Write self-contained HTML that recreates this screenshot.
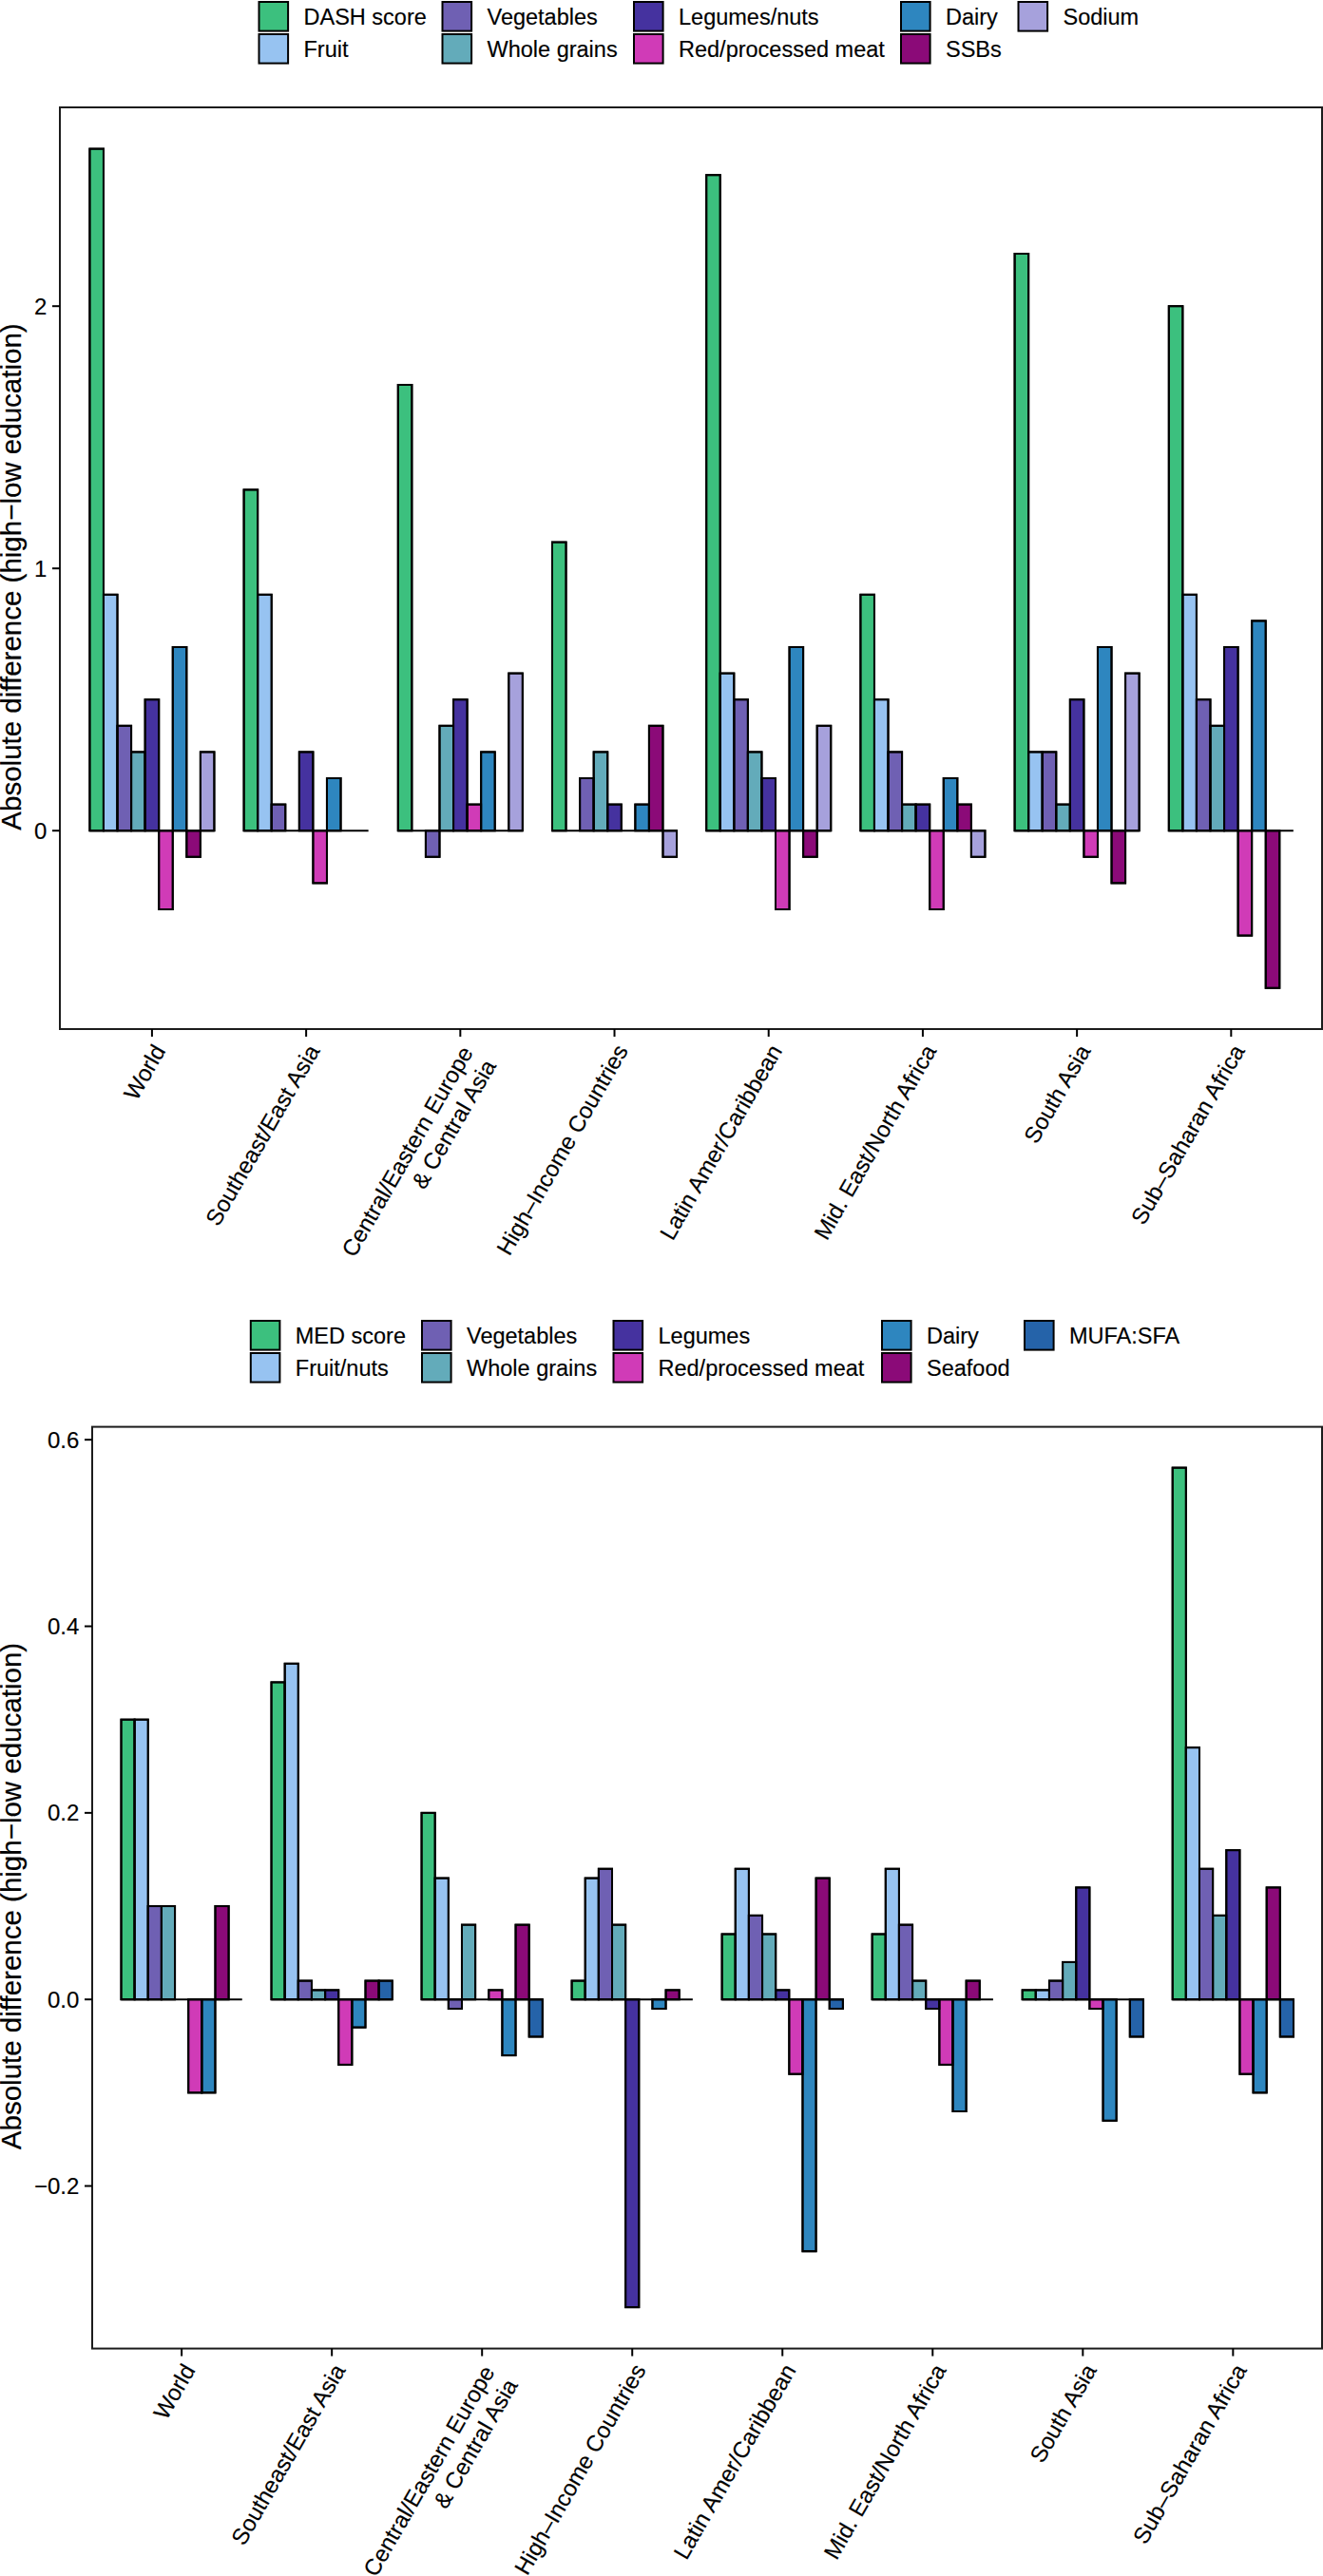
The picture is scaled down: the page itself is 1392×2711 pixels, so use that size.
<!DOCTYPE html>
<html><head><meta charset="utf-8"><style>
html,body{margin:0;padding:0;background:#fff;width:1392px;height:2711px;overflow:hidden}
svg{display:block}
.t{font-family:"Liberation Sans", sans-serif;font-size:24px;fill:#000;stroke:#000;stroke-width:0.15px}
.lg{font-family:"Liberation Sans", sans-serif;font-size:23.5px;fill:#000;stroke:#000;stroke-width:0.15px}
.yl{font-family:"Liberation Sans", sans-serif;font-size:29.5px;fill:#000;stroke:#000;stroke-width:0.2px}
line{stroke:#000;stroke-width:2}
</style></head><body>
<svg width="1392" height="2711" viewBox="0 0 1392 2711">
<g stroke="#000" stroke-width="2">
<rect x="94.40" y="156.60" width="14.56" height="717.60" fill="#3cc07e"/>
<rect x="108.96" y="625.80" width="14.56" height="248.40" fill="#97c3f1"/>
<rect x="123.52" y="763.80" width="14.56" height="110.40" fill="#6f60b3"/>
<rect x="138.08" y="791.40" width="14.56" height="82.80" fill="#63abba"/>
<rect x="152.64" y="736.20" width="14.56" height="138.00" fill="#45329f"/>
<rect x="167.20" y="874.20" width="14.56" height="82.80" fill="#d03bb7"/>
<rect x="181.76" y="681.00" width="14.56" height="193.20" fill="#2e86bf"/>
<rect x="196.32" y="874.20" width="14.56" height="27.60" fill="#8b0a78"/>
<rect x="210.88" y="791.40" width="14.56" height="82.80" fill="#a6a1dc"/>
<line x1="94.40" y1="874.20" x2="225.44" y2="874.20"/>
<rect x="94.40" y="156.60" width="14.56" height="717.60" fill="none"/>
<rect x="108.96" y="625.80" width="14.56" height="248.40" fill="none"/>
<rect x="123.52" y="763.80" width="14.56" height="110.40" fill="none"/>
<rect x="138.08" y="791.40" width="14.56" height="82.80" fill="none"/>
<rect x="152.64" y="736.20" width="14.56" height="138.00" fill="none"/>
<rect x="167.20" y="874.20" width="14.56" height="82.80" fill="none"/>
<rect x="181.76" y="681.00" width="14.56" height="193.20" fill="none"/>
<rect x="196.32" y="874.20" width="14.56" height="27.60" fill="none"/>
<rect x="210.88" y="791.40" width="14.56" height="82.80" fill="none"/>
<rect x="256.60" y="515.40" width="14.56" height="358.80" fill="#3cc07e"/>
<rect x="271.16" y="625.80" width="14.56" height="248.40" fill="#97c3f1"/>
<rect x="285.72" y="846.60" width="14.56" height="27.60" fill="#6f60b3"/>
<rect x="314.84" y="791.40" width="14.56" height="82.80" fill="#45329f"/>
<rect x="329.40" y="874.20" width="14.56" height="55.20" fill="#d03bb7"/>
<rect x="343.96" y="819.00" width="14.56" height="55.20" fill="#2e86bf"/>
<line x1="256.60" y1="874.20" x2="387.64" y2="874.20"/>
<rect x="256.60" y="515.40" width="14.56" height="358.80" fill="none"/>
<rect x="271.16" y="625.80" width="14.56" height="248.40" fill="none"/>
<rect x="285.72" y="846.60" width="14.56" height="27.60" fill="none"/>
<rect x="314.84" y="791.40" width="14.56" height="82.80" fill="none"/>
<rect x="329.40" y="874.20" width="14.56" height="55.20" fill="none"/>
<rect x="343.96" y="819.00" width="14.56" height="55.20" fill="none"/>
<rect x="418.80" y="405.00" width="14.56" height="469.20" fill="#3cc07e"/>
<rect x="447.92" y="874.20" width="14.56" height="27.60" fill="#6f60b3"/>
<rect x="462.48" y="763.80" width="14.56" height="110.40" fill="#63abba"/>
<rect x="477.04" y="736.20" width="14.56" height="138.00" fill="#45329f"/>
<rect x="491.60" y="846.60" width="14.56" height="27.60" fill="#d03bb7"/>
<rect x="506.16" y="791.40" width="14.56" height="82.80" fill="#2e86bf"/>
<rect x="535.28" y="708.60" width="14.56" height="165.60" fill="#a6a1dc"/>
<line x1="418.80" y1="874.20" x2="549.84" y2="874.20"/>
<rect x="418.80" y="405.00" width="14.56" height="469.20" fill="none"/>
<rect x="447.92" y="874.20" width="14.56" height="27.60" fill="none"/>
<rect x="462.48" y="763.80" width="14.56" height="110.40" fill="none"/>
<rect x="477.04" y="736.20" width="14.56" height="138.00" fill="none"/>
<rect x="491.60" y="846.60" width="14.56" height="27.60" fill="none"/>
<rect x="506.16" y="791.40" width="14.56" height="82.80" fill="none"/>
<rect x="535.28" y="708.60" width="14.56" height="165.60" fill="none"/>
<rect x="581.00" y="570.60" width="14.56" height="303.60" fill="#3cc07e"/>
<rect x="610.12" y="819.00" width="14.56" height="55.20" fill="#6f60b3"/>
<rect x="624.68" y="791.40" width="14.56" height="82.80" fill="#63abba"/>
<rect x="639.24" y="846.60" width="14.56" height="27.60" fill="#45329f"/>
<rect x="668.36" y="846.60" width="14.56" height="27.60" fill="#2e86bf"/>
<rect x="682.92" y="763.80" width="14.56" height="110.40" fill="#8b0a78"/>
<rect x="697.48" y="874.20" width="14.56" height="27.60" fill="#a6a1dc"/>
<line x1="581.00" y1="874.20" x2="712.04" y2="874.20"/>
<rect x="581.00" y="570.60" width="14.56" height="303.60" fill="none"/>
<rect x="610.12" y="819.00" width="14.56" height="55.20" fill="none"/>
<rect x="624.68" y="791.40" width="14.56" height="82.80" fill="none"/>
<rect x="639.24" y="846.60" width="14.56" height="27.60" fill="none"/>
<rect x="668.36" y="846.60" width="14.56" height="27.60" fill="none"/>
<rect x="682.92" y="763.80" width="14.56" height="110.40" fill="none"/>
<rect x="697.48" y="874.20" width="14.56" height="27.60" fill="none"/>
<rect x="743.20" y="184.20" width="14.56" height="690.00" fill="#3cc07e"/>
<rect x="757.76" y="708.60" width="14.56" height="165.60" fill="#97c3f1"/>
<rect x="772.32" y="736.20" width="14.56" height="138.00" fill="#6f60b3"/>
<rect x="786.88" y="791.40" width="14.56" height="82.80" fill="#63abba"/>
<rect x="801.44" y="819.00" width="14.56" height="55.20" fill="#45329f"/>
<rect x="816.00" y="874.20" width="14.56" height="82.80" fill="#d03bb7"/>
<rect x="830.56" y="681.00" width="14.56" height="193.20" fill="#2e86bf"/>
<rect x="845.12" y="874.20" width="14.56" height="27.60" fill="#8b0a78"/>
<rect x="859.68" y="763.80" width="14.56" height="110.40" fill="#a6a1dc"/>
<line x1="743.20" y1="874.20" x2="874.24" y2="874.20"/>
<rect x="743.20" y="184.20" width="14.56" height="690.00" fill="none"/>
<rect x="757.76" y="708.60" width="14.56" height="165.60" fill="none"/>
<rect x="772.32" y="736.20" width="14.56" height="138.00" fill="none"/>
<rect x="786.88" y="791.40" width="14.56" height="82.80" fill="none"/>
<rect x="801.44" y="819.00" width="14.56" height="55.20" fill="none"/>
<rect x="816.00" y="874.20" width="14.56" height="82.80" fill="none"/>
<rect x="830.56" y="681.00" width="14.56" height="193.20" fill="none"/>
<rect x="845.12" y="874.20" width="14.56" height="27.60" fill="none"/>
<rect x="859.68" y="763.80" width="14.56" height="110.40" fill="none"/>
<rect x="905.40" y="625.80" width="14.56" height="248.40" fill="#3cc07e"/>
<rect x="919.96" y="736.20" width="14.56" height="138.00" fill="#97c3f1"/>
<rect x="934.52" y="791.40" width="14.56" height="82.80" fill="#6f60b3"/>
<rect x="949.08" y="846.60" width="14.56" height="27.60" fill="#63abba"/>
<rect x="963.64" y="846.60" width="14.56" height="27.60" fill="#45329f"/>
<rect x="978.20" y="874.20" width="14.56" height="82.80" fill="#d03bb7"/>
<rect x="992.76" y="819.00" width="14.56" height="55.20" fill="#2e86bf"/>
<rect x="1007.32" y="846.60" width="14.56" height="27.60" fill="#8b0a78"/>
<rect x="1021.88" y="874.20" width="14.56" height="27.60" fill="#a6a1dc"/>
<line x1="905.40" y1="874.20" x2="1036.44" y2="874.20"/>
<rect x="905.40" y="625.80" width="14.56" height="248.40" fill="none"/>
<rect x="919.96" y="736.20" width="14.56" height="138.00" fill="none"/>
<rect x="934.52" y="791.40" width="14.56" height="82.80" fill="none"/>
<rect x="949.08" y="846.60" width="14.56" height="27.60" fill="none"/>
<rect x="963.64" y="846.60" width="14.56" height="27.60" fill="none"/>
<rect x="978.20" y="874.20" width="14.56" height="82.80" fill="none"/>
<rect x="992.76" y="819.00" width="14.56" height="55.20" fill="none"/>
<rect x="1007.32" y="846.60" width="14.56" height="27.60" fill="none"/>
<rect x="1021.88" y="874.20" width="14.56" height="27.60" fill="none"/>
<rect x="1067.60" y="267.00" width="14.56" height="607.20" fill="#3cc07e"/>
<rect x="1082.16" y="791.40" width="14.56" height="82.80" fill="#97c3f1"/>
<rect x="1096.72" y="791.40" width="14.56" height="82.80" fill="#6f60b3"/>
<rect x="1111.28" y="846.60" width="14.56" height="27.60" fill="#63abba"/>
<rect x="1125.84" y="736.20" width="14.56" height="138.00" fill="#45329f"/>
<rect x="1140.40" y="874.20" width="14.56" height="27.60" fill="#d03bb7"/>
<rect x="1154.96" y="681.00" width="14.56" height="193.20" fill="#2e86bf"/>
<rect x="1169.52" y="874.20" width="14.56" height="55.20" fill="#8b0a78"/>
<rect x="1184.08" y="708.60" width="14.56" height="165.60" fill="#a6a1dc"/>
<line x1="1067.60" y1="874.20" x2="1198.64" y2="874.20"/>
<rect x="1067.60" y="267.00" width="14.56" height="607.20" fill="none"/>
<rect x="1082.16" y="791.40" width="14.56" height="82.80" fill="none"/>
<rect x="1096.72" y="791.40" width="14.56" height="82.80" fill="none"/>
<rect x="1111.28" y="846.60" width="14.56" height="27.60" fill="none"/>
<rect x="1125.84" y="736.20" width="14.56" height="138.00" fill="none"/>
<rect x="1140.40" y="874.20" width="14.56" height="27.60" fill="none"/>
<rect x="1154.96" y="681.00" width="14.56" height="193.20" fill="none"/>
<rect x="1169.52" y="874.20" width="14.56" height="55.20" fill="none"/>
<rect x="1184.08" y="708.60" width="14.56" height="165.60" fill="none"/>
<rect x="1229.80" y="322.20" width="14.56" height="552.00" fill="#3cc07e"/>
<rect x="1244.36" y="625.80" width="14.56" height="248.40" fill="#97c3f1"/>
<rect x="1258.92" y="736.20" width="14.56" height="138.00" fill="#6f60b3"/>
<rect x="1273.48" y="763.80" width="14.56" height="110.40" fill="#63abba"/>
<rect x="1288.04" y="681.00" width="14.56" height="193.20" fill="#45329f"/>
<rect x="1302.60" y="874.20" width="14.56" height="110.40" fill="#d03bb7"/>
<rect x="1317.16" y="653.40" width="14.56" height="220.80" fill="#2e86bf"/>
<rect x="1331.72" y="874.20" width="14.56" height="165.60" fill="#8b0a78"/>
<line x1="1229.80" y1="874.20" x2="1360.84" y2="874.20"/>
<rect x="1229.80" y="322.20" width="14.56" height="552.00" fill="none"/>
<rect x="1244.36" y="625.80" width="14.56" height="248.40" fill="none"/>
<rect x="1258.92" y="736.20" width="14.56" height="138.00" fill="none"/>
<rect x="1273.48" y="763.80" width="14.56" height="110.40" fill="none"/>
<rect x="1288.04" y="681.00" width="14.56" height="193.20" fill="none"/>
<rect x="1302.60" y="874.20" width="14.56" height="110.40" fill="none"/>
<rect x="1317.16" y="653.40" width="14.56" height="220.80" fill="none"/>
<rect x="1331.72" y="874.20" width="14.56" height="165.60" fill="none"/>
<rect x="63" y="113" width="1328" height="970" fill="none" stroke="#1c1c1c"/>
<line x1="55" y1="874.20" x2="63" y2="874.20"/>
<text x="49.4" y="882.70" text-anchor="end" class="t">0</text>
<line x1="55" y1="598.20" x2="63" y2="598.20"/>
<text x="49.4" y="606.70" text-anchor="end" class="t">1</text>
<line x1="55" y1="322.20" x2="63" y2="322.20"/>
<text x="49.4" y="330.70" text-anchor="end" class="t">2</text>
<line x1="159.92" y1="1083" x2="159.92" y2="1091"/>
<text transform="translate(174.92,1105.60) rotate(-60)" text-anchor="end" class="t"><tspan x="0" y="0">World</tspan></text>
<line x1="322.12" y1="1083" x2="322.12" y2="1091"/>
<text transform="translate(337.12,1105.60) rotate(-60)" text-anchor="end" class="t"><tspan x="0" y="0">Southeast/East Asia</tspan></text>
<line x1="484.32" y1="1083" x2="484.32" y2="1091"/>
<text transform="translate(499.32,1105.60) rotate(-60)" text-anchor="end" class="t"><tspan x="-2" y="0">Central/Eastern Europe</tspan><tspan x="-2" y="28">&amp; Central Asia</tspan></text>
<line x1="646.52" y1="1083" x2="646.52" y2="1091"/>
<text transform="translate(661.52,1105.60) rotate(-60)" text-anchor="end" class="t"><tspan x="0" y="0">High–Income Countries</tspan></text>
<line x1="808.72" y1="1083" x2="808.72" y2="1091"/>
<text transform="translate(823.72,1105.60) rotate(-60)" text-anchor="end" class="t"><tspan x="0" y="0">Latin Amer/Caribbean</tspan></text>
<line x1="970.92" y1="1083" x2="970.92" y2="1091"/>
<text transform="translate(985.92,1105.60) rotate(-60)" text-anchor="end" class="t"><tspan x="0" y="0">Mid. East/North Africa</tspan></text>
<line x1="1133.12" y1="1083" x2="1133.12" y2="1091"/>
<text transform="translate(1148.12,1105.60) rotate(-60)" text-anchor="end" class="t"><tspan x="0" y="0">South Asia</tspan></text>
<line x1="1295.32" y1="1083" x2="1295.32" y2="1091"/>
<text transform="translate(1310.32,1105.60) rotate(-60)" text-anchor="end" class="t"><tspan x="0" y="0">Sub–Saharan Africa</tspan></text>
<text transform="translate(22,607) rotate(-90)" text-anchor="middle" class="yl">Absolute difference (high−low education)</text>
<rect x="127.50" y="1809.69" width="14.14" height="294.51" fill="#3cc07e"/>
<rect x="141.64" y="1809.69" width="14.14" height="294.51" fill="#97c3f1"/>
<rect x="155.78" y="2006.03" width="14.14" height="98.17" fill="#6f60b3"/>
<rect x="169.92" y="2006.03" width="14.14" height="98.17" fill="#63abba"/>
<rect x="198.20" y="2104.20" width="14.14" height="98.17" fill="#d03bb7"/>
<rect x="212.34" y="2104.20" width="14.14" height="98.17" fill="#2e86bf"/>
<rect x="226.48" y="2006.03" width="14.14" height="98.17" fill="#8b0a78"/>
<line x1="127.50" y1="2104.20" x2="254.76" y2="2104.20"/>
<rect x="127.50" y="1809.69" width="14.14" height="294.51" fill="none"/>
<rect x="141.64" y="1809.69" width="14.14" height="294.51" fill="none"/>
<rect x="155.78" y="2006.03" width="14.14" height="98.17" fill="none"/>
<rect x="169.92" y="2006.03" width="14.14" height="98.17" fill="none"/>
<rect x="198.20" y="2104.20" width="14.14" height="98.17" fill="none"/>
<rect x="212.34" y="2104.20" width="14.14" height="98.17" fill="none"/>
<rect x="226.48" y="2006.03" width="14.14" height="98.17" fill="none"/>
<rect x="285.53" y="1770.42" width="14.14" height="333.78" fill="#3cc07e"/>
<rect x="299.67" y="1750.79" width="14.14" height="353.41" fill="#97c3f1"/>
<rect x="313.81" y="2084.57" width="14.14" height="19.63" fill="#6f60b3"/>
<rect x="327.95" y="2094.38" width="14.14" height="9.82" fill="#63abba"/>
<rect x="342.09" y="2094.38" width="14.14" height="9.82" fill="#45329f"/>
<rect x="356.23" y="2104.20" width="14.14" height="68.72" fill="#d03bb7"/>
<rect x="370.37" y="2104.20" width="14.14" height="29.45" fill="#2e86bf"/>
<rect x="384.51" y="2084.57" width="14.14" height="19.63" fill="#8b0a78"/>
<rect x="398.65" y="2084.57" width="14.14" height="19.63" fill="#2563a9"/>
<line x1="285.53" y1="2104.20" x2="412.79" y2="2104.20"/>
<rect x="285.53" y="1770.42" width="14.14" height="333.78" fill="none"/>
<rect x="299.67" y="1750.79" width="14.14" height="353.41" fill="none"/>
<rect x="313.81" y="2084.57" width="14.14" height="19.63" fill="none"/>
<rect x="327.95" y="2094.38" width="14.14" height="9.82" fill="none"/>
<rect x="342.09" y="2094.38" width="14.14" height="9.82" fill="none"/>
<rect x="356.23" y="2104.20" width="14.14" height="68.72" fill="none"/>
<rect x="370.37" y="2104.20" width="14.14" height="29.45" fill="none"/>
<rect x="384.51" y="2084.57" width="14.14" height="19.63" fill="none"/>
<rect x="398.65" y="2084.57" width="14.14" height="19.63" fill="none"/>
<rect x="443.56" y="1907.86" width="14.14" height="196.34" fill="#3cc07e"/>
<rect x="457.70" y="1976.58" width="14.14" height="127.62" fill="#97c3f1"/>
<rect x="471.84" y="2104.20" width="14.14" height="9.82" fill="#6f60b3"/>
<rect x="485.98" y="2025.66" width="14.14" height="78.54" fill="#63abba"/>
<rect x="514.26" y="2094.38" width="14.14" height="9.82" fill="#d03bb7"/>
<rect x="528.40" y="2104.20" width="14.14" height="58.90" fill="#2e86bf"/>
<rect x="542.54" y="2025.66" width="14.14" height="78.54" fill="#8b0a78"/>
<rect x="556.68" y="2104.20" width="14.14" height="39.27" fill="#2563a9"/>
<line x1="443.56" y1="2104.20" x2="570.82" y2="2104.20"/>
<rect x="443.56" y="1907.86" width="14.14" height="196.34" fill="none"/>
<rect x="457.70" y="1976.58" width="14.14" height="127.62" fill="none"/>
<rect x="471.84" y="2104.20" width="14.14" height="9.82" fill="none"/>
<rect x="485.98" y="2025.66" width="14.14" height="78.54" fill="none"/>
<rect x="514.26" y="2094.38" width="14.14" height="9.82" fill="none"/>
<rect x="528.40" y="2104.20" width="14.14" height="58.90" fill="none"/>
<rect x="542.54" y="2025.66" width="14.14" height="78.54" fill="none"/>
<rect x="556.68" y="2104.20" width="14.14" height="39.27" fill="none"/>
<rect x="601.59" y="2084.57" width="14.14" height="19.63" fill="#3cc07e"/>
<rect x="615.73" y="1976.58" width="14.14" height="127.62" fill="#97c3f1"/>
<rect x="629.87" y="1966.76" width="14.14" height="137.44" fill="#6f60b3"/>
<rect x="644.01" y="2025.66" width="14.14" height="78.54" fill="#63abba"/>
<rect x="658.15" y="2104.20" width="14.14" height="323.96" fill="#45329f"/>
<rect x="686.43" y="2104.20" width="14.14" height="9.82" fill="#2e86bf"/>
<rect x="700.57" y="2094.38" width="14.14" height="9.82" fill="#8b0a78"/>
<line x1="601.59" y1="2104.20" x2="728.85" y2="2104.20"/>
<rect x="601.59" y="2084.57" width="14.14" height="19.63" fill="none"/>
<rect x="615.73" y="1976.58" width="14.14" height="127.62" fill="none"/>
<rect x="629.87" y="1966.76" width="14.14" height="137.44" fill="none"/>
<rect x="644.01" y="2025.66" width="14.14" height="78.54" fill="none"/>
<rect x="658.15" y="2104.20" width="14.14" height="323.96" fill="none"/>
<rect x="686.43" y="2104.20" width="14.14" height="9.82" fill="none"/>
<rect x="700.57" y="2094.38" width="14.14" height="9.82" fill="none"/>
<rect x="759.62" y="2035.48" width="14.14" height="68.72" fill="#3cc07e"/>
<rect x="773.76" y="1966.76" width="14.14" height="137.44" fill="#97c3f1"/>
<rect x="787.90" y="2015.85" width="14.14" height="88.35" fill="#6f60b3"/>
<rect x="802.04" y="2035.48" width="14.14" height="68.72" fill="#63abba"/>
<rect x="816.18" y="2094.38" width="14.14" height="9.82" fill="#45329f"/>
<rect x="830.32" y="2104.20" width="14.14" height="78.54" fill="#d03bb7"/>
<rect x="844.46" y="2104.20" width="14.14" height="265.06" fill="#2e86bf"/>
<rect x="858.60" y="1976.58" width="14.14" height="127.62" fill="#8b0a78"/>
<rect x="872.74" y="2104.20" width="14.14" height="9.82" fill="#2563a9"/>
<line x1="759.62" y1="2104.20" x2="886.88" y2="2104.20"/>
<rect x="759.62" y="2035.48" width="14.14" height="68.72" fill="none"/>
<rect x="773.76" y="1966.76" width="14.14" height="137.44" fill="none"/>
<rect x="787.90" y="2015.85" width="14.14" height="88.35" fill="none"/>
<rect x="802.04" y="2035.48" width="14.14" height="68.72" fill="none"/>
<rect x="816.18" y="2094.38" width="14.14" height="9.82" fill="none"/>
<rect x="830.32" y="2104.20" width="14.14" height="78.54" fill="none"/>
<rect x="844.46" y="2104.20" width="14.14" height="265.06" fill="none"/>
<rect x="858.60" y="1976.58" width="14.14" height="127.62" fill="none"/>
<rect x="872.74" y="2104.20" width="14.14" height="9.82" fill="none"/>
<rect x="917.65" y="2035.48" width="14.14" height="68.72" fill="#3cc07e"/>
<rect x="931.79" y="1966.76" width="14.14" height="137.44" fill="#97c3f1"/>
<rect x="945.93" y="2025.66" width="14.14" height="78.54" fill="#6f60b3"/>
<rect x="960.07" y="2084.57" width="14.14" height="19.63" fill="#63abba"/>
<rect x="974.21" y="2104.20" width="14.14" height="9.82" fill="#45329f"/>
<rect x="988.35" y="2104.20" width="14.14" height="68.72" fill="#d03bb7"/>
<rect x="1002.49" y="2104.20" width="14.14" height="117.80" fill="#2e86bf"/>
<rect x="1016.63" y="2084.57" width="14.14" height="19.63" fill="#8b0a78"/>
<line x1="917.65" y1="2104.20" x2="1044.91" y2="2104.20"/>
<rect x="917.65" y="2035.48" width="14.14" height="68.72" fill="none"/>
<rect x="931.79" y="1966.76" width="14.14" height="137.44" fill="none"/>
<rect x="945.93" y="2025.66" width="14.14" height="78.54" fill="none"/>
<rect x="960.07" y="2084.57" width="14.14" height="19.63" fill="none"/>
<rect x="974.21" y="2104.20" width="14.14" height="9.82" fill="none"/>
<rect x="988.35" y="2104.20" width="14.14" height="68.72" fill="none"/>
<rect x="1002.49" y="2104.20" width="14.14" height="117.80" fill="none"/>
<rect x="1016.63" y="2084.57" width="14.14" height="19.63" fill="none"/>
<rect x="1075.68" y="2094.38" width="14.14" height="9.82" fill="#3cc07e"/>
<rect x="1089.82" y="2094.38" width="14.14" height="9.82" fill="#97c3f1"/>
<rect x="1103.96" y="2084.57" width="14.14" height="19.63" fill="#6f60b3"/>
<rect x="1118.10" y="2064.93" width="14.14" height="39.27" fill="#63abba"/>
<rect x="1132.24" y="1986.40" width="14.14" height="117.80" fill="#45329f"/>
<rect x="1146.38" y="2104.20" width="14.14" height="9.82" fill="#d03bb7"/>
<rect x="1160.52" y="2104.20" width="14.14" height="127.62" fill="#2e86bf"/>
<rect x="1188.80" y="2104.20" width="14.14" height="39.27" fill="#2563a9"/>
<line x1="1075.68" y1="2104.20" x2="1202.94" y2="2104.20"/>
<rect x="1075.68" y="2094.38" width="14.14" height="9.82" fill="none"/>
<rect x="1089.82" y="2094.38" width="14.14" height="9.82" fill="none"/>
<rect x="1103.96" y="2084.57" width="14.14" height="19.63" fill="none"/>
<rect x="1118.10" y="2064.93" width="14.14" height="39.27" fill="none"/>
<rect x="1132.24" y="1986.40" width="14.14" height="117.80" fill="none"/>
<rect x="1146.38" y="2104.20" width="14.14" height="9.82" fill="none"/>
<rect x="1160.52" y="2104.20" width="14.14" height="127.62" fill="none"/>
<rect x="1188.80" y="2104.20" width="14.14" height="39.27" fill="none"/>
<rect x="1233.71" y="1544.63" width="14.14" height="559.57" fill="#3cc07e"/>
<rect x="1247.85" y="1839.14" width="14.14" height="265.06" fill="#97c3f1"/>
<rect x="1261.99" y="1966.76" width="14.14" height="137.44" fill="#6f60b3"/>
<rect x="1276.13" y="2015.85" width="14.14" height="88.35" fill="#63abba"/>
<rect x="1290.27" y="1947.13" width="14.14" height="157.07" fill="#45329f"/>
<rect x="1304.41" y="2104.20" width="14.14" height="78.54" fill="#d03bb7"/>
<rect x="1318.55" y="2104.20" width="14.14" height="98.17" fill="#2e86bf"/>
<rect x="1332.69" y="1986.40" width="14.14" height="117.80" fill="#8b0a78"/>
<rect x="1346.83" y="2104.20" width="14.14" height="39.27" fill="#2563a9"/>
<line x1="1233.71" y1="2104.20" x2="1360.97" y2="2104.20"/>
<rect x="1233.71" y="1544.63" width="14.14" height="559.57" fill="none"/>
<rect x="1247.85" y="1839.14" width="14.14" height="265.06" fill="none"/>
<rect x="1261.99" y="1966.76" width="14.14" height="137.44" fill="none"/>
<rect x="1276.13" y="2015.85" width="14.14" height="88.35" fill="none"/>
<rect x="1290.27" y="1947.13" width="14.14" height="157.07" fill="none"/>
<rect x="1304.41" y="2104.20" width="14.14" height="78.54" fill="none"/>
<rect x="1318.55" y="2104.20" width="14.14" height="98.17" fill="none"/>
<rect x="1332.69" y="1986.40" width="14.14" height="117.80" fill="none"/>
<rect x="1346.83" y="2104.20" width="14.14" height="39.27" fill="none"/>
<rect x="97" y="1501.6" width="1294" height="970.0" fill="none" stroke="#1c1c1c"/>
<line x1="89" y1="1515.18" x2="97" y2="1515.18"/>
<text x="83.4" y="1523.68" text-anchor="end" class="t">0.6</text>
<line x1="89" y1="1711.52" x2="97" y2="1711.52"/>
<text x="83.4" y="1720.02" text-anchor="end" class="t">0.4</text>
<line x1="89" y1="1907.86" x2="97" y2="1907.86"/>
<text x="83.4" y="1916.36" text-anchor="end" class="t">0.2</text>
<line x1="89" y1="2104.20" x2="97" y2="2104.20"/>
<text x="83.4" y="2112.70" text-anchor="end" class="t">0.0</text>
<line x1="89" y1="2300.54" x2="97" y2="2300.54"/>
<text x="83.4" y="2309.04" text-anchor="end" class="t">−0.2</text>
<line x1="191.13" y1="2471.6" x2="191.13" y2="2479.6"/>
<text transform="translate(206.13,2494.20) rotate(-60)" text-anchor="end" class="t"><tspan x="0" y="0">World</tspan></text>
<line x1="349.16" y1="2471.6" x2="349.16" y2="2479.6"/>
<text transform="translate(364.16,2494.20) rotate(-60)" text-anchor="end" class="t"><tspan x="0" y="0">Southeast/East Asia</tspan></text>
<line x1="507.19" y1="2471.6" x2="507.19" y2="2479.6"/>
<text transform="translate(522.19,2494.20) rotate(-60)" text-anchor="end" class="t"><tspan x="-2" y="0">Central/Eastern Europe</tspan><tspan x="-2" y="28">&amp; Central Asia</tspan></text>
<line x1="665.22" y1="2471.6" x2="665.22" y2="2479.6"/>
<text transform="translate(680.22,2494.20) rotate(-60)" text-anchor="end" class="t"><tspan x="0" y="0">High–Income Countries</tspan></text>
<line x1="823.25" y1="2471.6" x2="823.25" y2="2479.6"/>
<text transform="translate(838.25,2494.20) rotate(-60)" text-anchor="end" class="t"><tspan x="0" y="0">Latin Amer/Caribbean</tspan></text>
<line x1="981.28" y1="2471.6" x2="981.28" y2="2479.6"/>
<text transform="translate(996.28,2494.20) rotate(-60)" text-anchor="end" class="t"><tspan x="0" y="0">Mid. East/North Africa</tspan></text>
<line x1="1139.31" y1="2471.6" x2="1139.31" y2="2479.6"/>
<text transform="translate(1154.31,2494.20) rotate(-60)" text-anchor="end" class="t"><tspan x="0" y="0">South Asia</tspan></text>
<line x1="1297.34" y1="2471.6" x2="1297.34" y2="2479.6"/>
<text transform="translate(1312.34,2494.20) rotate(-60)" text-anchor="end" class="t"><tspan x="0" y="0">Sub–Saharan Africa</tspan></text>
<text transform="translate(22,1995.5) rotate(-90)" text-anchor="middle" class="yl">Absolute difference (high−low education)</text>
</g>
<g stroke="#000" stroke-width="2">
<rect x="272.50" y="2.00" width="30.6" height="30.6" fill="#3cc07e"/>
<text x="319.50" y="25.50" class="lg">DASH score</text>
<rect x="272.50" y="36.00" width="30.6" height="30.6" fill="#97c3f1"/>
<text x="319.50" y="59.50" class="lg">Fruit</text>
<rect x="465.50" y="2.00" width="30.6" height="30.6" fill="#6f60b3"/>
<text x="512.50" y="25.50" class="lg">Vegetables</text>
<rect x="465.50" y="36.00" width="30.6" height="30.6" fill="#63abba"/>
<text x="512.50" y="59.50" class="lg">Whole grains</text>
<rect x="667.00" y="2.00" width="30.6" height="30.6" fill="#45329f"/>
<text x="714.00" y="25.50" class="lg">Legumes/nuts</text>
<rect x="667.00" y="36.00" width="30.6" height="30.6" fill="#d03bb7"/>
<text x="714.00" y="59.50" class="lg">Red/processed meat</text>
<rect x="948.00" y="2.00" width="30.6" height="30.6" fill="#2e86bf"/>
<text x="995.00" y="25.50" class="lg">Dairy</text>
<rect x="948.00" y="36.00" width="30.6" height="30.6" fill="#8b0a78"/>
<text x="995.00" y="59.50" class="lg">SSBs</text>
<rect x="1071.50" y="2.00" width="30.6" height="30.6" fill="#a6a1dc"/>
<text x="1118.50" y="25.50" class="lg">Sodium</text>
<rect x="263.80" y="1390.00" width="30.6" height="30.6" fill="#3cc07e"/>
<text x="310.80" y="1413.50" class="lg">MED score</text>
<rect x="263.80" y="1424.00" width="30.6" height="30.6" fill="#97c3f1"/>
<text x="310.80" y="1447.50" class="lg">Fruit/nuts</text>
<rect x="444.00" y="1390.00" width="30.6" height="30.6" fill="#6f60b3"/>
<text x="491.00" y="1413.50" class="lg">Vegetables</text>
<rect x="444.00" y="1424.00" width="30.6" height="30.6" fill="#63abba"/>
<text x="491.00" y="1447.50" class="lg">Whole grains</text>
<rect x="645.50" y="1390.00" width="30.6" height="30.6" fill="#45329f"/>
<text x="692.50" y="1413.50" class="lg">Legumes</text>
<rect x="645.50" y="1424.00" width="30.6" height="30.6" fill="#d03bb7"/>
<text x="692.50" y="1447.50" class="lg">Red/processed meat</text>
<rect x="928.00" y="1390.00" width="30.6" height="30.6" fill="#2e86bf"/>
<text x="975.00" y="1413.50" class="lg">Dairy</text>
<rect x="928.00" y="1424.00" width="30.6" height="30.6" fill="#8b0a78"/>
<text x="975.00" y="1447.50" class="lg">Seafood</text>
<rect x="1078.00" y="1390.00" width="30.6" height="30.6" fill="#2563a9"/>
<text x="1125.00" y="1413.50" class="lg">MUFA:SFA</text>
</g>
</svg>
</body></html>
